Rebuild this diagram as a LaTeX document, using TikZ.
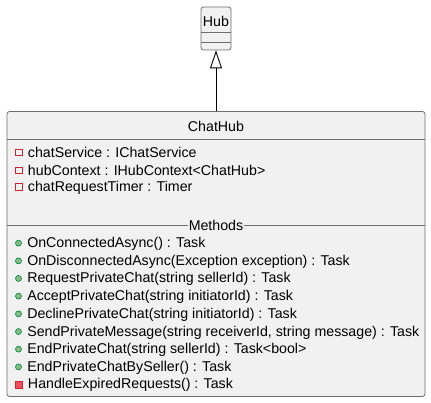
\documentclass[tikz,border=0pt]{standalone}
\usepackage{fontspec}
\setmainfont{Liberation Sans}
\usetikzlibrary{arrows.meta,positioning}
\definecolor{boxfill}{RGB}{241,241,241}
\definecolor{boxline}{RGB}{110,110,110}
\definecolor{privred}{RGB}{200,41,48}
\definecolor{privfill}{RGB}{242,77,92}
\definecolor{pubgreen}{RGB}{3,128,72}
\definecolor{pubfill}{RGB}{132,190,132}
\tikzset{
  cls/.style={draw=boxline,fill=boxfill,rounded corners=2.5pt,line width=0.8pt},
  member/.style={anchor=west,inner sep=0pt,font=\fontsize{14.2}{16}\selectfont},
  ctitle/.style={inner sep=0pt,font=\fontsize{14.2}{16}\selectfont},
  sep/.style={draw=boxline,line width=0.8pt},
  ext/.style={-{Triangle[open,length=18pt,width=12pt]},line width=0.9pt,black},
  pubicon/.style={circle,draw=pubgreen,fill=pubfill,minimum size=6pt,inner sep=0pt,line width=0.6pt},
  privfld/.style={draw=privred,fill=boxfill,minimum size=6.5pt,inner sep=0pt,line width=0.8pt},
  privmth/.style={draw=privred,fill=privfill,minimum size=7pt,inner sep=0pt,line width=0.8pt},
}
\newcommand{\mPub}{\tikz[baseline=-0.6ex]\node[pubicon]{};\hspace{5.5pt}}
\newcommand{\fPriv}{\tikz[baseline=-0.6ex]\node[privfld]{};\hspace{5.5pt}}
\newcommand{\mPriv}{\tikz[baseline=-0.6ex]\node[privmth]{};\hspace{5pt}}

\begin{document}
\begin{tikzpicture}[x=1pt,y=-1pt]
  \useasboundingbox (0,0) rectangle (431,403);
  % base class
  \node[cls,minimum width=30pt,minimum height=43pt] (hub) at (216,28.5) {};
  \node[ctitle] (hubt) at (216,21.5) {Hub};
  \draw[sep] (hub.west |- 0,32) coordinate (h1) -- (hub.east |- 0,32);
  \draw[sep] (hub.west |- 0,42) coordinate (h2) -- (hub.east |- 0,42);

  % class box
  \node[cls,minimum width=418pt,minimum height=285pt] (chathub) at (216,254) {};
  \node[ctitle] (title) at (216,126.5) {ChatHub};
  \draw[sep] (chathub.west |- 0,139) coordinate (s1) -- (chathub.east |- 0,139);

  % fields
  \node[member] (f1) at (15,152) {\fPriv chatService : IChatService};
  \node[member] (f2) at (15,170) {\fPriv hubContext : IHubContext<ChatHub>};
  \node[member] (f3) at (15,187.5) {\fPriv chatRequestTimer : Timer};

  % methods
  \node[ctitle,fill=boxfill,inner xsep=1pt] (meth) at (216,225) {Methods};
  \draw[sep] (chathub.west |- meth) -- (meth.west);
  \draw[sep] (meth.east) -- (chathub.east |- meth);
  \node[member] (m1) at (15,244) {\mPub OnConnectedAsync() : Task};
  \node[member] (m2) at (15,261.7) {\mPub OnDisconnectedAsync(Exception exception) : Task};
  \node[member] (m3) at (15,279.3) {\mPub RequestPrivateChat(string sellerId) : Task};
  \node[member] (m4) at (15,297) {\mPub AcceptPrivateChat(string initiatorId) : Task};
  \node[member] (m5) at (15,314.7) {\mPub DeclinePrivateChat(string initiatorId) : Task};
  \node[member] (m6) at (15,332.4) {\mPub SendPrivateMessage(string receiverId, string message) : Task};
  \node[member] (m7) at (15,350) {\mPub EndPrivateChat(string sellerId) : Task<bool>};
  \node[member] (m8) at (15,367.7) {\mPub EndPrivateChatBySeller() : Task};
  \node[member] (m9) at (15,385.3) {\mPriv HandleExpiredRequests() : Task};

  % inheritance
  \draw[ext] (chathub.north) -- (hub.south);
\end{tikzpicture}
\end{document}
